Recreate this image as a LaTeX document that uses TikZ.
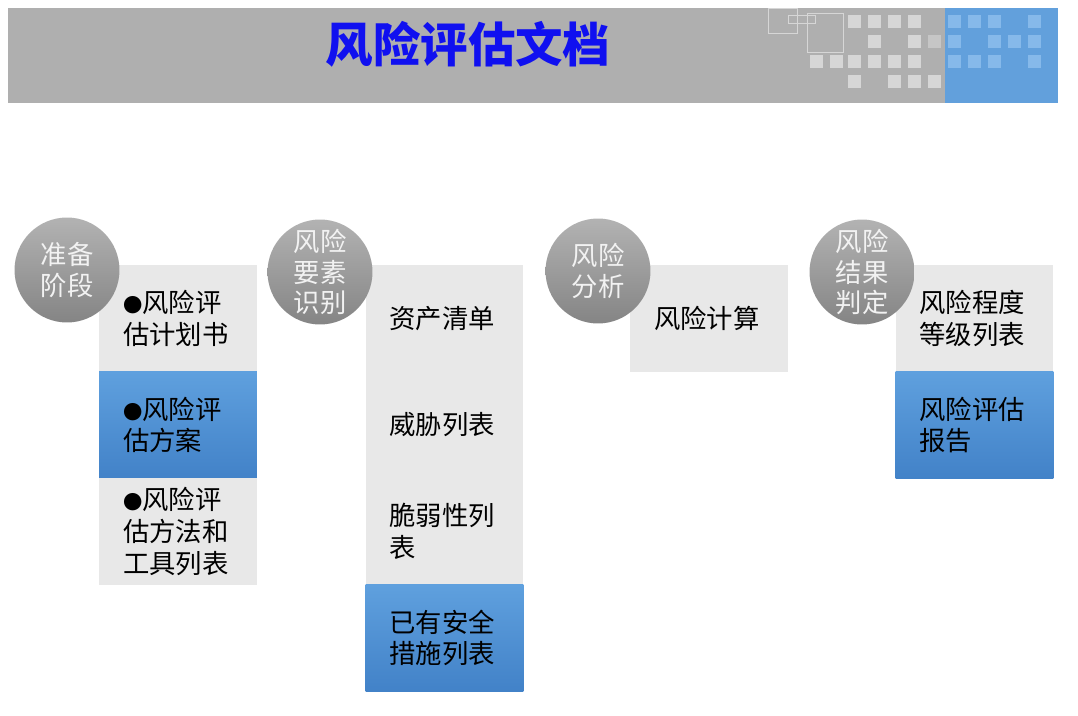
\documentclass[tikz,border=0pt]{standalone}
\usepackage{fontspec}
\newfontfamily\cjk{Noto Sans CJK SC}
\usetikzlibrary{positioning}

\definecolor{bandgray}{HTML}{AFAFAF}
\definecolor{bandblue}{HTML}{62A0DC}
\definecolor{tilegray}{HTML}{D6D6D6}
\definecolor{tileblue}{HTML}{86B9EA}
\definecolor{boxgray}{HTML}{E8E8E8}
\definecolor{titleblue}{HTML}{1010F0}

\newcommand{\dotmark}{{\fontsize{11}{18}\selectfont●}}

\begin{document}
\begin{tikzpicture}[
	x=0.02cm, y=-0.02cm,
	font=\cjk,
	graybox/.style={
		rectangle, fill=boxgray,
		minimum width=3.16cm,
		minimum height=2.13cm,
		text width=2.2cm, align=left,
		inner sep=0pt, outer sep=0pt,
		font=\cjk\fontsize{15}{18}\selectfont
	},
	bluebox/.style={
		graybox,
		top color={rgb,255:red,95;green,160;blue,222},
		bottom color={rgb,255:red,66;green,130;blue,200}
	},
	phase/.style={
		circle, minimum size=2.1cm,
		inner sep=0pt, align=center,
		top color=black!30, bottom color=black!48,
		text=black!5,
		font=\cjk\fontsize{15}{17.5}\selectfont
	}
	]
	
	\useasboundingbox (0,0) rectangle (1078,716);
	
	\fill[bandgray] (8,8) rectangle (1058,103);
	\fill[bandblue] (945,8) rectangle (1058,103);
	\foreach \x/\y in {848/15,868/15,888/15,908/15,868/35,908/35,810/55,830/55,848/55,868/55,888/55,908/55,848/75,888/75,908/75,928/75}
		\fill[tilegray] (\x,\y) rectangle ++(13,13);
	\fill[tilegray!60!bandgray] (928,35) rectangle ++(13,13);
	\foreach \x/\y in {948/15,968/15,988/15,1028/15,948/35,988/35,1008/35,1028/35,948/55,968/55,988/55,1028/55}
		\fill[tileblue] (\x,\y) rectangle ++(13,13);
	\draw[tilegray, thin] (768,8) rectangle (797,33);
	\draw[tilegray, thin] (788,15) rectangle (815,23);
	\draw[tilegray, thin] (807,13) rectangle (843,52);
	
	\node[text=titleblue, font=\cjk\bfseries\fontsize{27}{30}\selectfont] (title) at (468,44) {风险评估文档};
	
	\node[graybox] (plan) at (178,318.5) {\dotmark 风险评\\估计划书};
	\node[bluebox, below=0pt of plan] (scheme) {\dotmark 风险评\\估方案};
	\node[graybox, below=0pt of scheme] (tools) {\dotmark 风险评\\估方法和\\工具列表};
	
	\node[graybox] (asset) at (444.5,318.5) {资产清单};
	\node[graybox, below=0pt of asset] (threat) {威胁列表};
	\node[graybox, below=0pt of threat] (vuln) {脆弱性列\\表};
	\node[bluebox, below=0pt of vuln] (safeguard) {已有安全\\措施列表};
	
	\node[graybox] (calc) at (709,318.5) {风险计算};
	
	\node[graybox] (level) at (974.5,318.5) {风险程度\\等级列表};
	\node[bluebox, below=0pt of level] (report) {风险评估\\报告};
	
	\node[phase] (prep)  at (67,270)  {准备\\阶段};
	\node[phase] (ident) at (320,272) {风险\\要素\\识别};
	\node[phase] (analy) at (598,271) {风险\\分析};
	\node[phase] (judge) at (862,272) {风险\\结果\\判定};
	
\end{tikzpicture}
\end{document}
